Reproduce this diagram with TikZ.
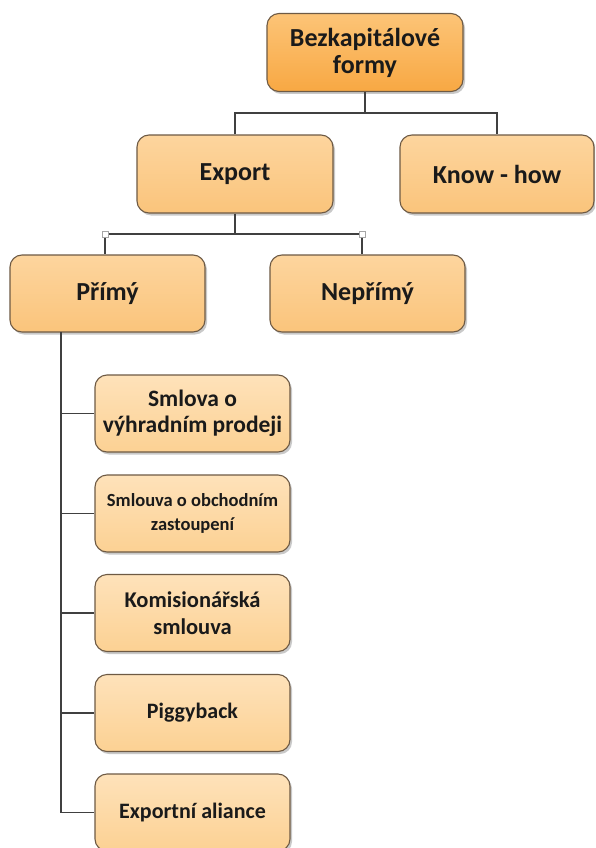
\documentclass[tikz,border=0pt]{standalone}
\usepackage{fontspec}
\setmainfont{Carlito}
\usetikzlibrary{shadows,calc}
\definecolor{boxline}{HTML}{6E5A44}
\definecolor{lighttop}{HTML}{FEE2BA}
\definecolor{lightbot}{HTML}{FCD193}
\definecolor{midtop}{HTML}{FDD59E}
\definecolor{midbot}{HTML}{FAC47B}
\definecolor{darktop}{HTML}{FCC477}
\definecolor{darkbot}{HTML}{F8A843}
\definecolor{conn}{HTML}{404040}
\definecolor{txt}{HTML}{1A1A1A}
\begin{document}
\begin{tikzpicture}[x=1pt,y=-1pt,
  box/.style={draw=boxline, line width=1.1pt, rounded corners=12pt,
    top color=lighttop, bottom color=lightbot,
    drop shadow={shadow xshift=2pt, shadow yshift=-2.5pt, opacity=0.35, fill=black!60},
    align=center, font=\bfseries, text=txt, inner sep=2pt},
  bigbox/.style={box, top color=midtop, bottom color=midbot, minimum width=196pt, minimum height=78pt, font=\bfseries\fontsize{26}{30}\selectfont},
  smallbox/.style={box, minimum width=195pt, minimum height=77pt},
  darkbox/.style={top color=darktop, bottom color=darkbot},
  link/.style={draw=conn, line width=1.2pt},
  handle/.style={draw=gray!70, fill=white, line width=0.8pt, minimum size=6pt, inner sep=0pt}
]
\useasboundingbox (0,0) rectangle (595,848);
\clip (0,0) rectangle (595,848);
\fill[white] (0,0) rectangle (595,848);

\node[bigbox, darkbox] (top) at (365,52.5) {Bezkapitálové\\[-3pt]formy};
\node[bigbox] (export) at (235,174) {Export};
\node[bigbox, minimum width=194pt] (know) at (497,174) {Know - how};
\node[bigbox, minimum width=195pt, minimum height=77pt] (primy) at (107.5,293.5) {Přímý};
\node[bigbox, minimum width=195pt, minimum height=77pt] (neprimy) at (367.5,293.5) {Nepřímý};

\node[smallbox, font=\bfseries\fontsize{23.5}{28}\selectfont] (c1) at (192.5,413.5) {Smlova o\\[-2pt]výhradním prodeji};
\node[smallbox, font=\bfseries\fontsize{18.5}{24}\selectfont] (c2) at (192.5,513.5) {Smlouva o obchodním\\zastoupení};
\node[smallbox, font=\bfseries\fontsize{22.5}{27}\selectfont] (c3) at (192.5,613) {Komisionářská\\smlouva};
\node[smallbox, font=\bfseries\fontsize{22}{27}\selectfont] (c4) at (192.5,713) {Piggyback};
\node[smallbox, font=\bfseries\fontsize{22}{27}\selectfont] (c5) at (192.5,812.5) {Exportní aliance};

% connectors from top
\coordinate (tbar) at (365,113);
\draw[link] (top.south) -- (tbar);
\draw[link] (export.north) |- (tbar) -| (know.north);

% connectors from export
\coordinate (ebar) at (235,234);
\coordinate (el) at (105,234);
\coordinate (er) at (362,234);
\draw[link] (export.south) -- (ebar);
\draw[link] (el) -- (er);
\draw[link] (el) -- (el |- primy.north);
\draw[link] (er) -- (er |- neprimy.north);
\node[handle] (hl) at (el) {};
\node[handle] (hr) at (er) {};

% connectors from primy
\coordinate (pv) at (61,332);
\coordinate (pend) at (61,812.5);
\draw[link] (pv) -- (pend);
\foreach \c in {c1,c2,c3,c4,c5}{
  \draw[link] (pv |- \c.west) -- (\c.west);
}
\end{tikzpicture}
\end{document}
